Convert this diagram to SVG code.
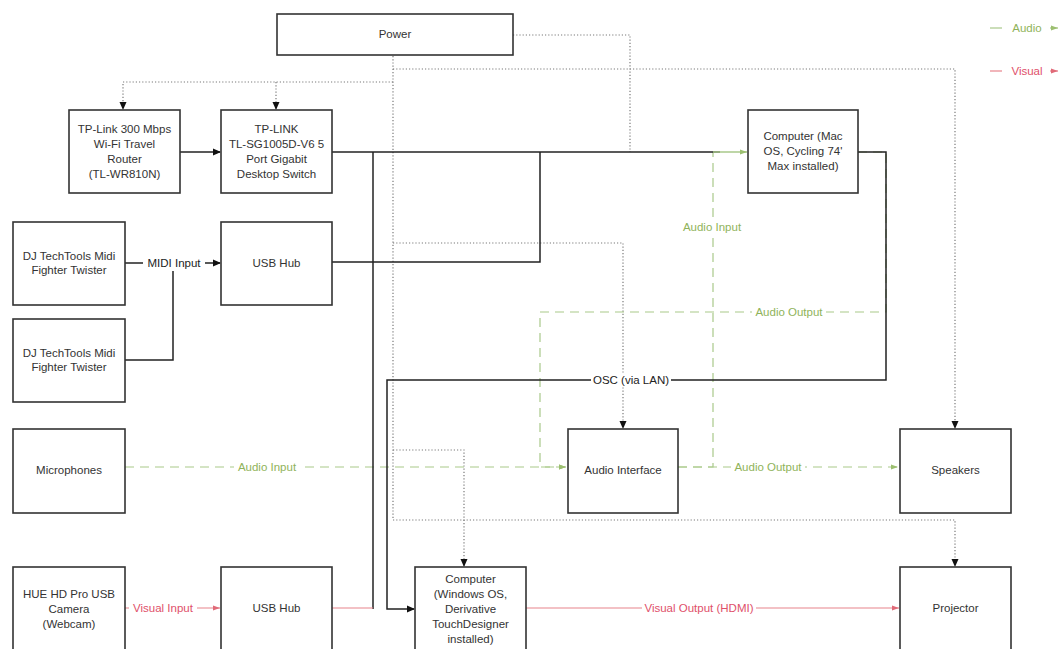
<svg xmlns="http://www.w3.org/2000/svg" width="1062" height="649" viewBox="0 0 1062 649">
<style>
.box{fill:#fff;stroke:#333;stroke-width:1.6}
.t{font-family:"Liberation Sans",Arial,sans-serif;font-size:11.5px;fill:#333;text-anchor:middle;dominant-baseline:central}
.pw{fill:none;stroke:#7a7a7a;stroke-width:1.2;stroke-dasharray:1.2 2}
.k{fill:none;stroke:#222;stroke-width:1.5}
.g{fill:none;stroke:#a9c98a;stroke-width:1.2;stroke-dasharray:9 6}
.r{fill:none;stroke:#e8848c;stroke-width:1.2}
.lg{font-family:"Liberation Sans",Arial,sans-serif;font-size:11.5px;fill:#8fb35a;text-anchor:middle;dominant-baseline:central}
.lr{font-family:"Liberation Sans",Arial,sans-serif;font-size:11.5px;fill:#e0506a;text-anchor:middle;dominant-baseline:central}
.lk{font-family:"Liberation Sans",Arial,sans-serif;font-size:11.5px;fill:#222;text-anchor:middle;dominant-baseline:central}
.bg{fill:#fff}
</style>
<defs>
<marker id="ak" markerWidth="8" markerHeight="8" refX="7" refY="4" orient="auto" markerUnits="userSpaceOnUse"><path d="M0,0.5 L8,4 L0,7.5 Z" fill="#111"/></marker>
<marker id="ag" markerWidth="8" markerHeight="8" refX="7" refY="4" orient="auto" markerUnits="userSpaceOnUse"><path d="M0,1.5 L7,4 L0,6.5 Z" fill="#9cbf70"/></marker>
<marker id="ar" markerWidth="8" markerHeight="8" refX="7" refY="4" orient="auto" markerUnits="userSpaceOnUse"><path d="M0,1.5 L7,4 L0,6.5 Z" fill="#e06a78"/></marker>
</defs>

<g id="connectors">
<path class="pw" d="M513,35 H630 V152"/>
<path class="pw" d="M393,56 V520"/>
<path class="pw" d="M393,82 H123 V109" marker-end="url(#ak)"/>
<path class="pw" d="M276,82 V109" marker-end="url(#ak)"/>
<path class="pw" d="M393,69 H955 V428" marker-end="url(#ak)"/>
<path class="pw" d="M393,243 H623 V428" marker-end="url(#ak)"/>
<path class="pw" d="M393,520 H955 V566" marker-end="url(#ak)"/>
<path class="pw" d="M393,450 H464 V566" marker-end="url(#ak)"/>

<path class="g" d="M858,152 H886 V312 H540 V467 H566" marker-end="url(#ag)"/>
<path class="g" d="M125,467 H566" marker-end="url(#ag)"/>
<path class="g" d="M678,467 H898" marker-end="url(#ag)"/>
<path class="g" d="M678,467 H713 V152"/>

<path class="k" d="M180,152 H220" marker-end="url(#ak)"/>
<path class="k" d="M332,152 H720"/>
<path class="k" d="M332,262 H540 V152"/>
<path class="k" d="M373,152 V609"/>
<path class="k" d="M858,152 H886 V380 H387 V609 H414" marker-end="url(#ak)"/>
<path class="k" d="M125,263 H220" marker-end="url(#ak)"/>
<path class="k" d="M125,360 H173 V271"/>

<path d="M713,152 H747" fill="none" stroke="#a9c98a" stroke-width="1.4" marker-end="url(#ag)"/>

<path class="r" d="M125,608 H220" marker-end="url(#ar)"/>
<path class="r" d="M332,608 H373"/>
<path class="r" d="M526,608 H899" marker-end="url(#ar)"/>

<rect class="bg" x="143" y="256" width="62" height="14"/>
<text class="lk" x="174" y="263">MIDI Input</text>
<rect class="bg" x="591" y="373" width="80" height="14"/>
<text class="lk" x="631" y="380">OSC (via LAN)</text>
<rect class="bg" x="680" y="220" width="64" height="14"/>
<text class="lg" x="712" y="227">Audio Input</text>
<rect class="bg" x="752" y="305" width="74" height="14"/>
<text class="lg" x="789" y="312">Audio Output</text>
<rect class="bg" x="234" y="460" width="66" height="14"/>
<text class="lg" x="267" y="467">Audio Input</text>
<rect class="bg" x="731" y="460" width="74" height="14"/>
<text class="lg" x="768" y="467">Audio Output</text>
<rect class="bg" x="129" y="601" width="68" height="14"/>
<text class="lr" x="163" y="608">Visual Input</text>
<rect class="bg" x="642" y="601" width="114" height="14"/>
<text class="lr" x="699" y="608">Visual Output (HDMI)</text>
</g>

<g id="legend">
<path d="M990,28 H1002" fill="none" stroke="#a9c98a" stroke-width="1.2"/>
<text class="lg" x="1027" y="28">Audio</text>
<path d="M1050,28 H1058" fill="none" stroke="#a9c98a" stroke-width="1.2" marker-end="url(#ag)"/>
<path d="M990,71 H1002" fill="none" stroke="#e8848c" stroke-width="1.2"/>
<text class="lr" x="1027" y="71">Visual</text>
<path d="M1050,71 H1058" fill="none" stroke="#e8848c" stroke-width="1.2" marker-end="url(#ar)"/>
</g>

<g id="power"><rect class="box" x="277" y="14" width="236" height="41"/><text class="t" x="395" y="34">Power</text></g>
<g id="router"><rect class="box" x="69" y="110" width="111" height="83"/><text class="t" x="124.5"><tspan x="124.5" y="129">TP-Link 300 Mbps</tspan><tspan x="124.5" y="144">Wi-Fi Travel</tspan><tspan x="124.5" y="159">Router</tspan><tspan x="124.5" y="174">(TL-WR810N)</tspan></text></g>
<g id="switch"><rect class="box" x="221" y="110" width="111" height="83"/><text class="t" x="276.5"><tspan x="276.5" y="129">TP-LINK</tspan><tspan x="276.5" y="144">TL-SG1005D-V6 5</tspan><tspan x="276.5" y="159">Port Gigabit</tspan><tspan x="276.5" y="174">Desktop Switch</tspan></text></g>
<g id="mac"><rect class="box" x="748" y="110" width="110" height="83"/><text class="t" x="803"><tspan x="803" y="136">Computer (Mac</tspan><tspan x="803" y="151">OS, Cycling 74'</tspan><tspan x="803" y="166">Max installed)</tspan></text></g>
<g id="dj1"><rect class="box" x="13" y="222" width="112" height="83"/><text class="t" x="69"><tspan x="69" y="256">DJ TechTools Midi</tspan><tspan x="69" y="270">Fighter Twister</tspan></text></g>
<g id="usbhub1"><rect class="box" x="221" y="222" width="111" height="83"/><text class="t" x="276.5" y="263">USB Hub</text></g>
<g id="dj2"><rect class="box" x="13" y="319" width="112" height="83"/><text class="t" x="69"><tspan x="69" y="353">DJ TechTools Midi</tspan><tspan x="69" y="367">Fighter Twister</tspan></text></g>
<g id="microphones"><rect class="box" x="13" y="429" width="112" height="84"/><text class="t" x="69" y="470">Microphones</text></g>
<g id="audiointerface"><rect class="box" x="568" y="429" width="110" height="84"/><text class="t" x="623" y="470">Audio Interface</text></g>
<g id="speakers"><rect class="box" x="900" y="429" width="111" height="84"/><text class="t" x="955.5" y="470">Speakers</text></g>
<g id="camera"><rect class="box" x="13" y="567" width="112" height="83"/><text class="t" x="69"><tspan x="69" y="594">HUE HD Pro USB</tspan><tspan x="69" y="609">Camera</tspan><tspan x="69" y="624">(Webcam)</tspan></text></g>
<g id="usbhub2"><rect class="box" x="221" y="567" width="111" height="83"/><text class="t" x="276.5" y="608">USB Hub</text></g>
<g id="windows"><rect class="box" x="415" y="567" width="111" height="83"/><text class="t" x="470.5"><tspan x="470.5" y="579">Computer</tspan><tspan x="470.5" y="594">(Windows OS,</tspan><tspan x="470.5" y="609">Derivative</tspan><tspan x="470.5" y="624">TouchDesigner</tspan><tspan x="470.5" y="639">installed)</tspan></text></g>
<g id="projector"><rect class="box" x="900" y="567" width="111" height="83"/><text class="t" x="955.5" y="608">Projector</text></g>
</svg>
